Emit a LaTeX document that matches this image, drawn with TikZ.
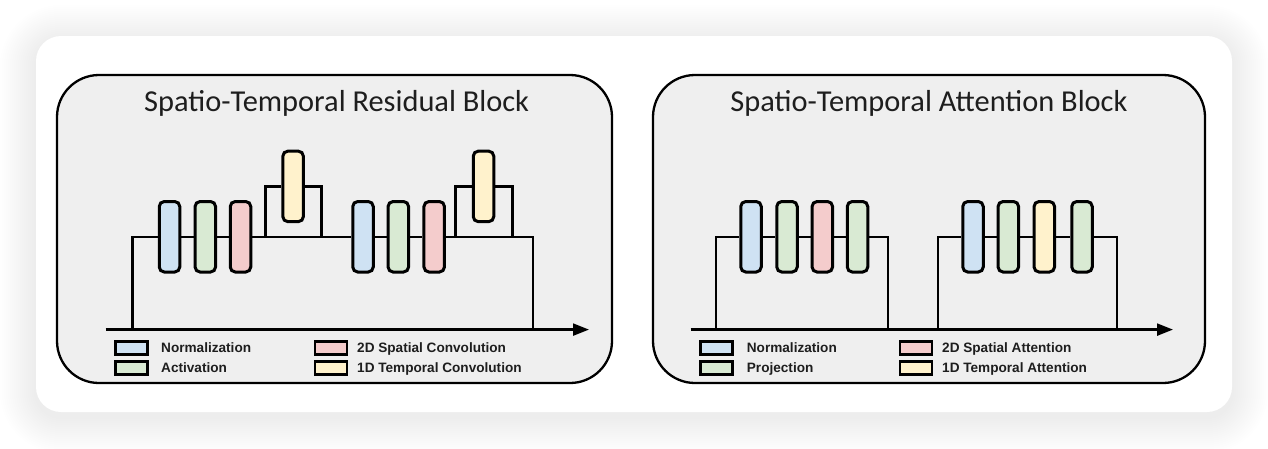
\documentclass[tikz,border=0pt]{standalone}
\usepackage{fontspec}
\setmainfont{Liberation Sans}
\newfontfamily\titlefont{Carlito}
\usetikzlibrary{arrows.meta}
\definecolor{cblue}{HTML}{CFE2F3}
\definecolor{cgreen}{HTML}{D9EAD3}
\definecolor{cred}{HTML}{F4CCCC}
\definecolor{cyellow}{HTML}{FFF2CC}
\definecolor{cpanel}{HTML}{EFEFEF}
\definecolor{ctext}{HTML}{1E1E1E}
\begin{document}
\begin{tikzpicture}[x=1pt,y=-1pt,
  blk/.style={draw=black, line width=3pt, rounded corners=5pt, minimum width=20.5pt, minimum height=70.5pt, inner sep=0pt},
  nrm/.style={blk, fill=cblue},
  act/.style={blk, fill=cgreen},
  spa/.style={blk, fill=cred},
  tmp/.style={blk, fill=cyellow},
  legbox/.style={draw=black, line width=2.5pt, minimum width=32pt, minimum height=13pt, inner sep=0pt},
  wire/.style={line width=2.3pt, black},
  lab/.style={anchor=base west, font=\fontsize{13.6}{15}\selectfont\bfseries, text=ctext, inner sep=0pt},
  ttl/.style={anchor=base, font=\titlefont\fontsize{30.4}{34}\selectfont, text=ctext, inner sep=0pt},
  panel/.style={draw=black, line width=2.3pt, fill=cpanel, rounded corners=42pt, inner sep=0pt},
  flow/.style={wire, -{Triangle[length=16pt,width=12pt]}}
]
\useasboundingbox (0,0) rectangle (1268,448);
\fill[white] (0,0) rectangle (1268,448);
% soft shadow of the card
\foreach \i in {1,...,18}{
  \pgfmathsetmacro{\d}{2*\i}
  \pgfmathsetmacro{\rr}{25+\d}
  \fill[black, opacity=0.0045, rounded corners=\rr pt] (36-\d,36-\d+5) rectangle (1232+\d,412+\d+5);
}
\fill[white, rounded corners=25pt] (36,36) rectangle (1232,412);

% ---------------- Panel 1 ----------------
\node[panel, minimum width=555pt, minimum height=308pt] (p1) at (334.5,229) {};
\node[ttl] (t1) at (336.7,111.7) {Spatio-Temporal Residual Block};

\node[nrm] (n1) at (169.5,236.75) {};
\node[act] (a1) at (205.3,236.75) {};
\node[spa] (c1) at (240.5,236.75) {};
\node[tmp] (y1) at (293.1,186.4) {};
\node[nrm] (n2) at (363.0,236.75) {};
\node[act] (a2) at (398.3,236.75) {};
\node[spa] (c2) at (434.2,236.75) {};
\node[tmp] (y2) at (483.5,186.4) {};

\coordinate (s1) at (105.6,329.6);
\coordinate (e1) at (589,329.6);
\coordinate (r1a) at (132.5,329.6);
\coordinate (r1b) at (533,329.6);
\coordinate (k1a) at (265.5,236.75);
\coordinate (k1b) at (321.5,236.75);
\coordinate (k2a) at (455.5,236.75);
\coordinate (k2b) at (512.5,236.75);

\draw[flow] (s1) -- (e1);
\draw[wire] (r1a) |- (n1);
\draw[wire] (n1) -- (a1);
\draw[wire] (a1) -- (c1);
\draw[wire] (c1) -- (n2);
\draw[wire] (n2) -- (a2);
\draw[wire] (a2) -- (c2);
\draw[wire] (c2) -| (r1b);
\draw[wire] (k1a) |- (y1.west);
\draw[wire] (y1.east) -| (k1b);
\draw[wire] (k2a) |- (y2.west);
\draw[wire] (y2.east) -| (k2b);

\node[legbox, fill=cblue]   (l1a) at (131.5,347.8) {};
\node[legbox, fill=cgreen]  (l1b) at (131.5,367.8) {};
\node[legbox, fill=cred]    (l1c) at (331,347.8) {};
\node[legbox, fill=cyellow] (l1d) at (331,367.8) {};
\node[lab] (m1a) at (161,352.6) {Normalization};
\node[lab] (m1b) at (161,372.3) {Activation};
\node[lab] (m1c) at (357,352.6) {2D Spatial Convolution};
\node[lab] (m1d) at (357,372.3) {1D Temporal Convolution};

% ---------------- Panel 2 ----------------
\node[panel, minimum width=552pt, minimum height=308pt] (p2) at (929,229) {};
\node[ttl] (t2) at (929,111.7) {Spatio-Temporal Attention Block};

\node[nrm] (n3) at (751,236.75) {};
\node[act] (q3) at (787,236.75) {};
\node[spa] (s3) at (822.3,236.75) {};
\node[act] (q4) at (857.5,236.75) {};
\node[nrm] (n4) at (973,236.75) {};
\node[act] (q5) at (1008.3,236.75) {};
\node[tmp] (y3) at (1044.3,236.75) {};
\node[act] (q6) at (1082,236.75) {};

\coordinate (s2) at (690.5,329.6);
\coordinate (e2) at (1173,329.6);
\coordinate (r2a) at (716,329.6);
\coordinate (r2b) at (888,329.6);
\coordinate (r3a) at (938,329.6);
\coordinate (r3b) at (1116.7,329.6);

\draw[flow] (s2) -- (e2);
\draw[wire] (r2a) |- (n3);
\draw[wire] (n3) -- (q3);
\draw[wire] (q3) -- (s3);
\draw[wire] (s3) -- (q4);
\draw[wire] (q4) -| (r2b);
\draw[wire] (r3a) |- (n4);
\draw[wire] (n4) -- (q5);
\draw[wire] (q5) -- (y3);
\draw[wire] (y3) -- (q6);
\draw[wire] (q6) -| (r3b);

\node[legbox, fill=cblue]   (l2a) at (716.5,347.8) {};
\node[legbox, fill=cgreen]  (l2b) at (716.5,367.8) {};
\node[legbox, fill=cred]    (l2c) at (916.2,347.8) {};
\node[legbox, fill=cyellow] (l2d) at (916.2,367.8) {};
\node[lab] (m2a) at (746.7,352.6) {Normalization};
\node[lab] (m2b) at (746.7,372.3) {Projection};
\node[lab] (m2c) at (942,352.6) {2D Spatial Attention};
\node[lab] (m2d) at (942,372.3) {1D Temporal Attention};
\end{tikzpicture}
\end{document}
